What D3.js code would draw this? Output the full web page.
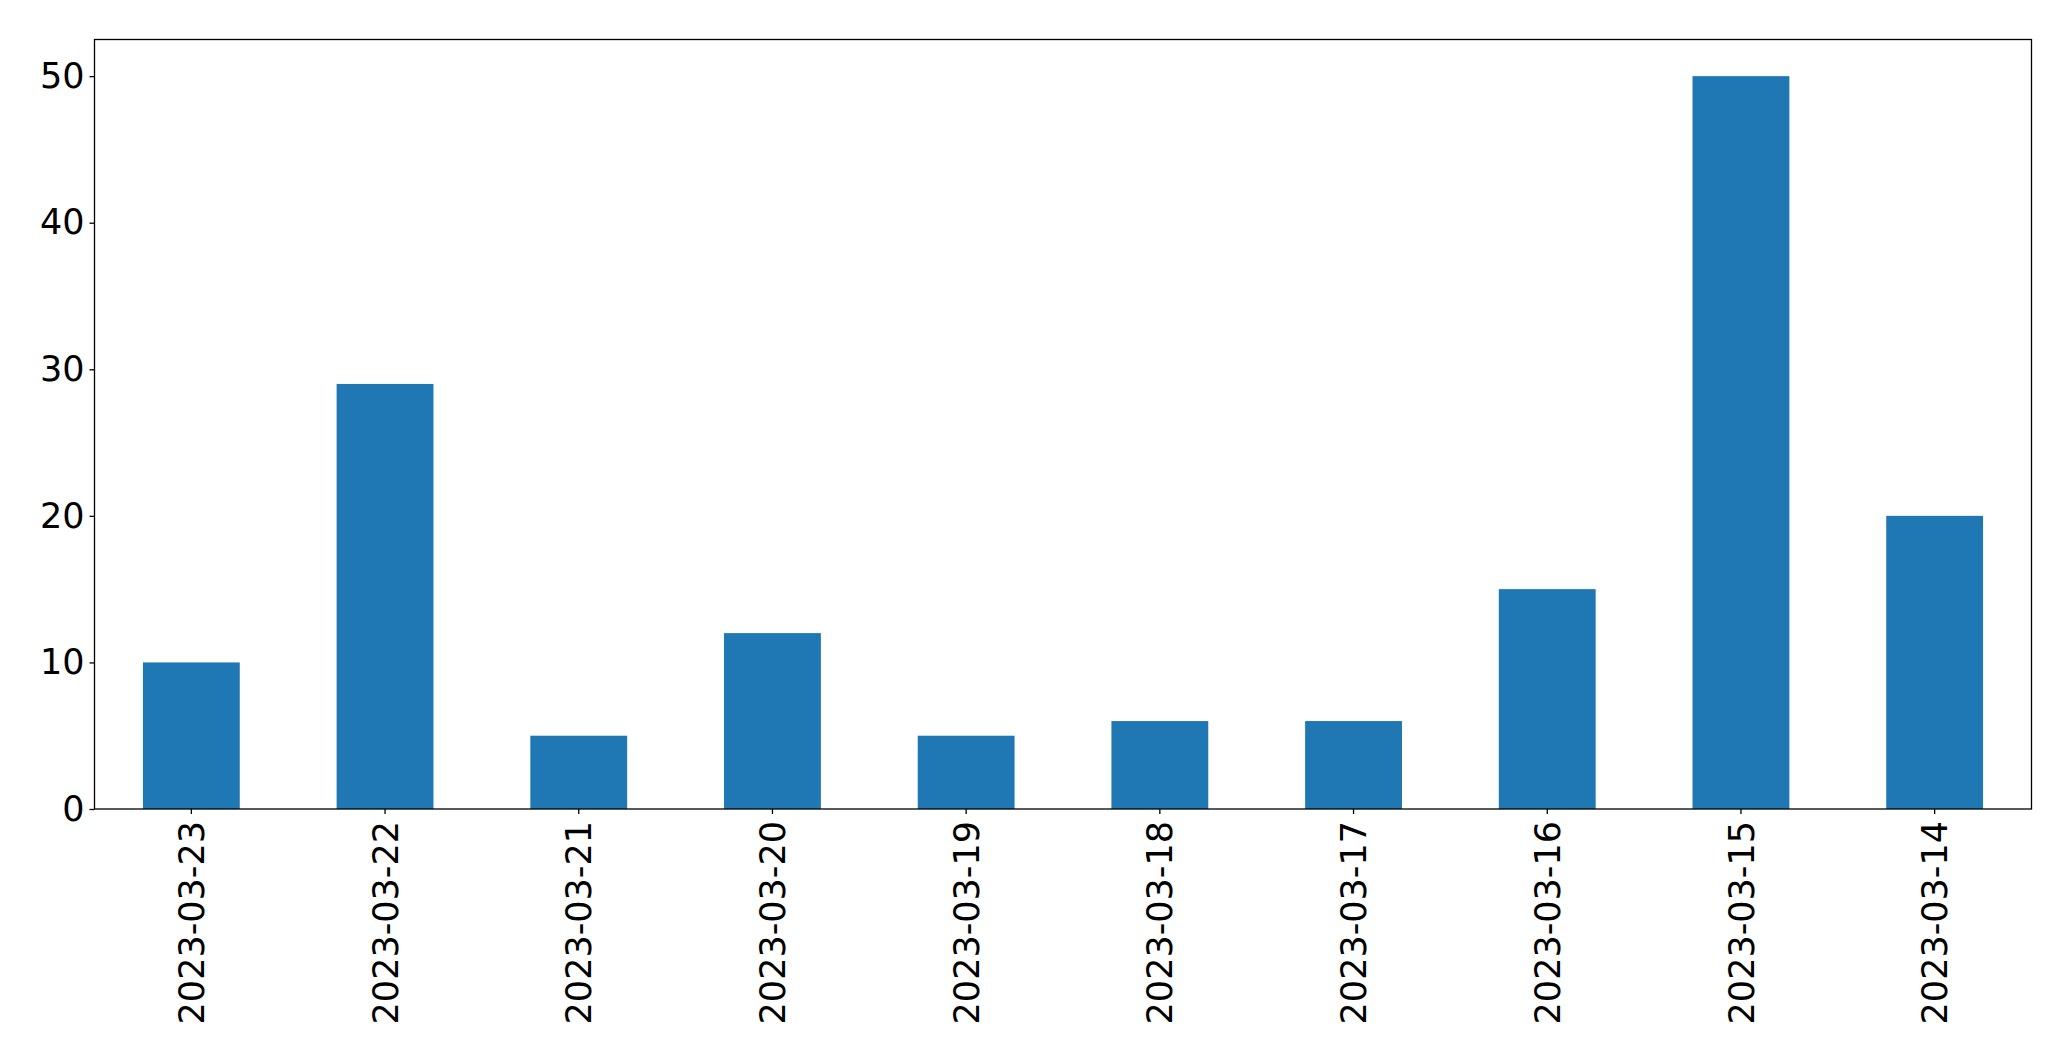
<!DOCTYPE html>
<html><head><meta charset="utf-8">
<script src="https://cdn.jsdelivr.net/npm/d3@7"></script>
<style>html,body{margin:0;padding:0;background:#fff;}svg{display:block;}</style>
</head><body>
<script>
const categories = ["2023-03-23","2023-03-22","2023-03-21","2023-03-20","2023-03-19","2023-03-18","2023-03-17","2023-03-16","2023-03-15","2023-03-14"];
const values = [10, 29, 5, 12, 5, 6, 6, 15, 50, 20];
const yTicks = [0, 10, 20, 30, 40, 50];

const W = 2071, H = 1061;
const m = {left: 94.5, top: 39.5, right: W - 2031.5, bottom: H - 809};
const iw = W - m.left - m.right, ih = H - m.top - m.bottom;
const svg = d3.select("body").append("svg").attr("width", W).attr("height", H);
const g = svg.append("g").attr("transform", `translate(${m.left},${m.top})`);

const x = d3.scaleBand().domain(categories).range([0, iw]).paddingInner(0.5).paddingOuter(0.25);
const y = d3.scaleLinear().domain([0, 52.5]).range([ih, 0]);

g.selectAll("rect.bar").data(values).join("rect").attr("class","bar")
  .attr("x", (d,i) => x(categories[i])).attr("width", x.bandwidth())
  .attr("y", d => y(d)).attr("height", d => y(0) - y(d)).attr("fill", "#1f77b4");

const fs = "35px";
const yAxis = g.append("g").call(d3.axisLeft(y).tickValues(yTicks).tickSize(5).tickPadding(5).tickFormat(d3.format("d")));
yAxis.select(".domain").remove();
yAxis.selectAll("text").attr("font-family","DejaVu Sans").attr("font-size",fs).attr("fill","#000");
yAxis.selectAll("line").attr("stroke","#000").attr("stroke-width",1.3);

const xAxis = g.append("g").attr("transform",`translate(0,${ih})`).call(d3.axisBottom(x).tickSize(5).tickPadding(5));
xAxis.select(".domain").remove();
xAxis.selectAll("line").attr("stroke","#000").attr("stroke-width",1.3);
xAxis.selectAll("text").attr("font-family","DejaVu Sans").attr("font-size",fs).attr("fill","#000")
  .attr("transform","rotate(-90)").attr("text-anchor","end").attr("x",-12).attr("y",0).attr("dy","0.36em");

g.append("rect").attr("x",0).attr("y",0).attr("width",iw).attr("height",ih)
  .attr("fill","none").attr("stroke","#000").attr("stroke-width",1.3);
</script>
</body></html>
